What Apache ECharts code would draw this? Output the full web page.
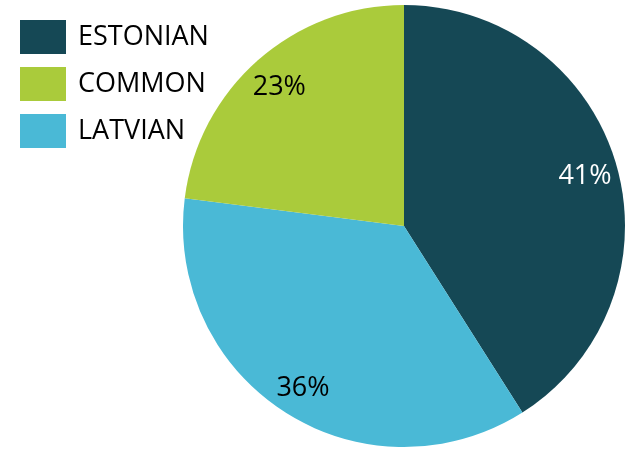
<!DOCTYPE html>
<html>
<head>
<meta charset="utf-8">
<script src="https://cdn.jsdelivr.net/npm/echarts@6/dist/echarts.min.js"></script>
<style>html,body{margin:0;padding:0;background:#fff;}#c{width:633px;height:449px;}</style>
</head>
<body>
<div id="c"></div>
<script>
var categories = ['ESTONIAN', 'LATVIAN', 'COMMON'];
var values = [41, 36, 23];
var legendOrder = ['ESTONIAN', 'COMMON', 'LATVIAN'];
var sliceColors = ['#154855', '#4AB9D6', '#AACB3B'];
var labelColors = ['#ffffff', '#000000', '#000000'];

var chart = echarts.init(document.getElementById('c'), null, {renderer: 'canvas'});
var FONT = '"Open Sans", sans-serif';
var baseData = categories.map(function (n, i) {
  return {name: n, value: values[i], itemStyle: {color: sliceColors[i]}};
});
var labelData = categories.map(function (n, i) {
  return {name: n, value: values[i], itemStyle: {color: 'rgba(0,0,0,0)'},
    label: {color: labelColors[i]}};
});
chart.setOption({
  animation: false,
  legend: {
    data: legendOrder,
    orient: 'vertical',
    left: 20, top: 20,
    padding: 0,
    itemWidth: 46, itemHeight: 34, itemGap: 13,
    icon: 'rect',
    selectedMode: false,
    textStyle: {fontFamily: FONT, fontSize: 27, color: '#000', padding: [4, 0, 0, 7]}
  },
  series: [{
    type: 'pie',
    center: [404, 226],
    radius: [0, 221],
    startAngle: 90,
    clockwise: true,
    silent: true,
    label: {show: false},
    labelLine: {show: false},
    data: baseData
  }, {
    type: 'pie',
    center: [404, 226],
    radius: [150, 221],
    startAngle: 90,
    clockwise: true,
    silent: true,
    label: {
      show: true, position: 'inside',
      formatter: function (p) { return p.value + '%'; },
      fontFamily: FONT, fontSize: 27,
      offset: [0, 3]
    },
    labelLine: {show: false},
    data: labelData
  }]
});
</script>
</body>
</html>
